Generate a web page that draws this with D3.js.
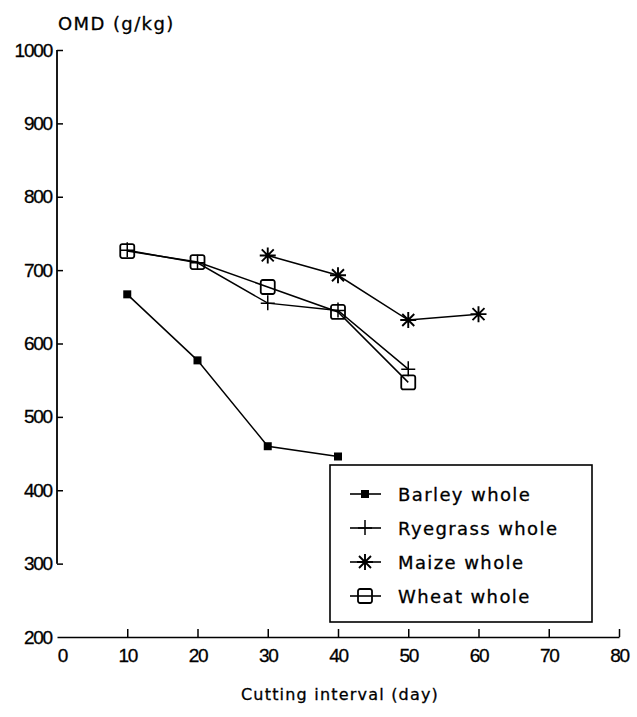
<!DOCTYPE html>
<html>
<head>
<meta charset="utf-8">
<script src="https://cdn.jsdelivr.net/npm/d3@7"></script>
<style>
  body { margin: 0; background: #fff; }
  svg { display: block; }
  .tick text { font-family: "Liberation Sans", Arial, sans-serif; font-size: 19px; fill: #000; stroke: #000; stroke-width: 0.3px; letter-spacing: -1.2px; }
  .lbl { font-family: "DejaVu Sans", sans-serif; font-size: 16px; fill: #000; letter-spacing: 1.2px; stroke: #000; stroke-width: 0.3px; }
  .big { font-size: 18px; letter-spacing: 1.4px; }
</style>
</head>
<body>
<svg width="637" height="717"></svg>
<script>
const days = [10, 20, 30, 40, 50, 60]
const barley = [667, 577, 460, 446]
const ryegrass = [727, 710, 655, 645, 565]
const maize = [null, null, 720, 693, 632, 640]
const wheat = [726, 711, 677, 643, 547]
const seriesNames = ["Barley whole", "Ryegrass whole", "Maize whole", "Wheat whole"]
const yTicks = [200, 300, 400, 500, 600, 700, 800, 900, 1000]
const xTicks = [0, 10, 20, 30, 40, 50, 60, 70, 80]

const svg = d3.select("svg")
const x = d3.scaleLinear().domain([0, 80]).range([57, 619])
const y = d3.scaleLinear().domain([200, 1000]).range([637, 50])

// y axis, ticks pointing inward, line stops at 300
const yAxis = svg.append("g")
    .attr("transform", `translate(${x(0)},0)`)
    .call(d3.axisLeft(y).tickValues(yTicks).tickSize(-6).tickPadding(5).tickFormat(d3.format("d")))
yAxis.select(".domain").remove()
yAxis.selectAll(".tick").filter(d => d == 200).select("line").remove()
svg.append("line")
    .attr("x1", x(0)).attr("x2", x(0))
    .attr("y1", y(1000)).attr("y2", y(300))
    .attr("stroke", "#000").attr("stroke-width", 1.8)
yAxis.selectAll(".tick line").attr("stroke-width", 1.5)

// x axis
const xAxis = svg.append("g")
    .attr("transform", `translate(0,${y(200)})`)
    .call(d3.axisBottom(x).tickValues(xTicks).tickSize(-8).tickPadding(12).tickSizeOuter(0))
xAxis.select(".domain").attr("stroke-width", 1.5)
xAxis.selectAll(".tick").filter(d => d == 0).select("line").remove()
xAxis.selectAll(".tick").filter(d => d == 0).select("text").attr("dx", 5)
xAxis.selectAll(".tick line").attr("stroke-width", 1.5)

svg.append("text").attr("class", "lbl big").attr("x", 58).attr("y", 30).text("OMD (g/kg)")
svg.append("text").attr("class", "lbl").attr("x", 340).attr("y", 700)
    .attr("text-anchor", "middle").text("Cutting interval (day)")

// markers
const marker = {
    barley: (g) => g.append("rect").attr("x", -4).attr("y", -4).attr("width", 8).attr("height", 8).attr("fill", "#000"),
    ryegrass: (g) => g.append("path").attr("d", "M-7,0H7M0,-8V7").attr("stroke", "#000").attr("stroke-width", 1.5),
    maize: (g) => g.append("path").attr("d", "M-8,0H8M0,-8V8M-6,-6L6,6M-6,6L6,-6").attr("stroke", "#000").attr("stroke-width", 1.9),
    wheat: (g) => g.append("rect").attr("x", -7).attr("y", -7).attr("width", 14).attr("height", 14).attr("rx", 2)
        .attr("fill", "#fff").attr("fill-opacity", 0).attr("stroke", "#000").attr("stroke-width", 1.8)
}

const series = [
    { key: "barley", vals: barley },
    { key: "ryegrass", vals: ryegrass },
    { key: "maize", vals: maize },
    { key: "wheat", vals: wheat }
]

const line = d3.line()
    .defined(d => d.v != null)
    .x(d => x(d.d))
    .y(d => y(d.v))

for (let s of series) {
    let pts = s.vals.map((v, i) => ({ d: days[i], v: v }))
    svg.append("path")
        .datum(pts)
        .attr("d", line)
        .attr("fill", "none")
        .attr("stroke", "#000")
        .attr("stroke-width", 1.5)
    for (let p of pts.filter(p => p.v != null)) {
        let g = svg.append("g").attr("transform", `translate(${x(p.d)},${y(p.v)})`)
        marker[s.key](g)
    }
}

// legend
const lg = svg.append("g")
lg.append("rect").attr("x", 330).attr("y", 465).attr("width", 262).attr("height", 157)
    .attr("fill", "#fff").attr("stroke", "#000").attr("stroke-width", 1.6)
const ly = d3.scalePoint().domain(seriesNames).range([494, 596])
series.forEach((s, i) => {
    let yy = ly(seriesNames[i])
    lg.append("line").attr("x1", 350).attr("x2", 381).attr("y1", yy).attr("y2", yy)
        .attr("stroke", "#000").attr("stroke-width", 1.6)
    let g = lg.append("g").attr("transform", `translate(365,${yy})`)
    marker[s.key](g)
    lg.append("text").attr("class", "lbl big").attr("x", 398).attr("y", yy + 7).text(seriesNames[i])
})
</script>
</body>
</html>
